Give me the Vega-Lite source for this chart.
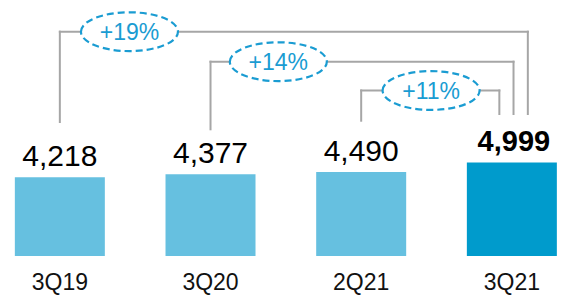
{
  "$schema": "https://vega.github.io/schema/vega-lite/v6.json",
  "width": 561,
  "height": 256,
  "padding": {"left": 0, "top": 0, "right": 0, "bottom": 39},
  "autosize": {"type": "none"},
  "background": "white",
  "view": {"stroke": null},
  "config": {"font": "Liberation Sans"},
  "datasets": {
    "bars": [
      {"quarter": "3Q19", "idx": 0, "value": 4218, "highlight": "no"},
      {"quarter": "3Q20", "idx": 1, "value": 4377, "highlight": "no"},
      {"quarter": "2Q21", "idx": 2, "value": 4490, "highlight": "no"},
      {"quarter": "3Q21", "idx": 3, "value": 4999, "highlight": "yes"}
    ],
    "brackets": [
      {"label": "+19%", "from": 0, "to": 3.106, "top": 12000, "left_end": 7169, "right_end": 7597, "label_x": 0.462},
      {"label": "+14%", "from": 1, "to": 3.011, "top": 10395, "left_end": 6778, "right_end": 7597, "label_x": 1.45},
      {"label": "+11%", "from": 2, "to": 2.917, "top": 8854, "left_end": 7238, "right_end": 7597, "label_x": 2.464}
    ]
  },
  "layer": [
    {
      "data": {"name": "brackets"},
      "mark": {"type": "rule", "color": "#a6a6a6", "strokeWidth": 2, "strokeCap": "square"},
      "encoding": {
        "x": {"field": "from", "type": "quantitative", "scale": {"domain": [-0.364, 3.293], "nice": false, "zero": false}, "axis": null},
        "y": {"field": "left_end", "type": "quantitative", "scale": {"domain": [0, 13696], "nice": false, "zero": false}, "axis": null},
        "y2": {"field": "top"}
      }
    },
    {
      "data": {"name": "brackets"},
      "mark": {"type": "rule", "color": "#a6a6a6", "strokeWidth": 2, "strokeCap": "square"},
      "encoding": {
        "x": {"field": "from", "type": "quantitative", "scale": {"domain": [-0.364, 3.293], "nice": false, "zero": false}, "axis": null},
        "x2": {"field": "to"},
        "y": {"field": "top", "type": "quantitative", "scale": {"domain": [0, 13696], "nice": false, "zero": false}, "axis": null}
      }
    },
    {
      "data": {"name": "brackets"},
      "mark": {"type": "rule", "color": "#a6a6a6", "strokeWidth": 2, "strokeCap": "square"},
      "encoding": {
        "x": {"field": "to", "type": "quantitative", "scale": {"domain": [-0.364, 3.293], "nice": false, "zero": false}, "axis": null},
        "y": {"field": "right_end", "type": "quantitative", "scale": {"domain": [0, 13696], "nice": false, "zero": false}, "axis": null},
        "y2": {"field": "top"}
      }
    },
    {
      "data": {"name": "brackets"},
      "mark": {
        "type": "point",
        "shape": "M-1,0C-1,-0.221,-0.552,-0.4,0,-0.4C0.552,-0.4,1,-0.221,1,0C1,0.221,0.552,0.4,0,0.4C-0.552,0.4,-1,0.221,-1,0Z",
        "size": 9409,
        "filled": true,
        "fill": "white",
        "fillOpacity": 1,
        "stroke": "#1a9cd2",
        "strokeWidth": 2.2,
        "strokeDash": [7, 4],
        "opacity": 1
      },
      "encoding": {
        "x": {"field": "label_x", "type": "quantitative", "scale": {"domain": [-0.364, 3.293], "nice": false, "zero": false}, "axis": null},
        "y": {"field": "top", "type": "quantitative", "scale": {"domain": [0, 13696], "nice": false, "zero": false}, "axis": null}
      }
    },
    {
      "data": {"name": "brackets"},
      "mark": {"type": "text", "fontSize": 23, "color": "#1a9cd2", "baseline": "middle", "align": "center", "dy": 1},
      "encoding": {
        "x": {"field": "label_x", "type": "quantitative", "scale": {"domain": [-0.364, 3.293], "nice": false, "zero": false}, "axis": null},
        "y": {"field": "top", "type": "quantitative", "scale": {"domain": [0, 13696], "nice": false, "zero": false}, "axis": null},
        "text": {"field": "label", "type": "nominal"}
      }
    },
    {
      "data": {"name": "bars"},
      "mark": {"type": "bar", "size": 90},
      "encoding": {
        "x": {"field": "idx", "type": "quantitative", "scale": {"domain": [-0.364, 3.293], "nice": false, "zero": false}, "axis": null},
        "y": {"field": "value", "type": "quantitative", "scale": {"domain": [0, 13696], "nice": false, "zero": false}, "axis": null},
        "color": {"field": "highlight", "type": "nominal", "scale": {"domain": ["no", "yes"], "range": ["#66c0e0", "#009bcc"]}, "legend": null}
      }
    },
    {
      "data": {"name": "bars"},
      "transform": [{"filter": "datum.highlight === 'no'"}],
      "mark": {"type": "text", "fontSize": 30, "color": "#000000", "baseline": "alphabetic", "align": "center", "dy": -11},
      "encoding": {
        "x": {"field": "idx", "type": "quantitative", "scale": {"domain": [-0.364, 3.293], "nice": false, "zero": false}, "axis": null},
        "y": {"field": "value", "type": "quantitative", "scale": {"domain": [0, 13696], "nice": false, "zero": false}, "axis": null},
        "text": {"field": "value", "type": "quantitative", "format": ","}
      }
    },
    {
      "data": {"name": "bars"},
      "transform": [{"filter": "datum.highlight === 'yes'"}],
      "mark": {"type": "text", "fontSize": 29, "fontWeight": "bold", "color": "#000000", "baseline": "alphabetic", "align": "center", "dy": -12, "dx": 2},
      "encoding": {
        "x": {"field": "idx", "type": "quantitative", "scale": {"domain": [-0.364, 3.293], "nice": false, "zero": false}, "axis": null},
        "y": {"field": "value", "type": "quantitative", "scale": {"domain": [0, 13696], "nice": false, "zero": false}, "axis": null},
        "text": {"field": "value", "type": "quantitative", "format": ","}
      }
    },
    {
      "data": {"name": "bars"},
      "mark": {"type": "text", "fontSize": 23, "color": "#111111", "baseline": "alphabetic", "align": "center", "dy": 34},
      "encoding": {
        "x": {"field": "idx", "type": "quantitative", "scale": {"domain": [-0.364, 3.293], "nice": false, "zero": false}, "axis": null},
        "y": {"datum": 0, "type": "quantitative", "scale": {"domain": [0, 13696], "nice": false, "zero": false}, "axis": null},
        "text": {"field": "quarter", "type": "nominal"}
      }
    }
  ]
}
